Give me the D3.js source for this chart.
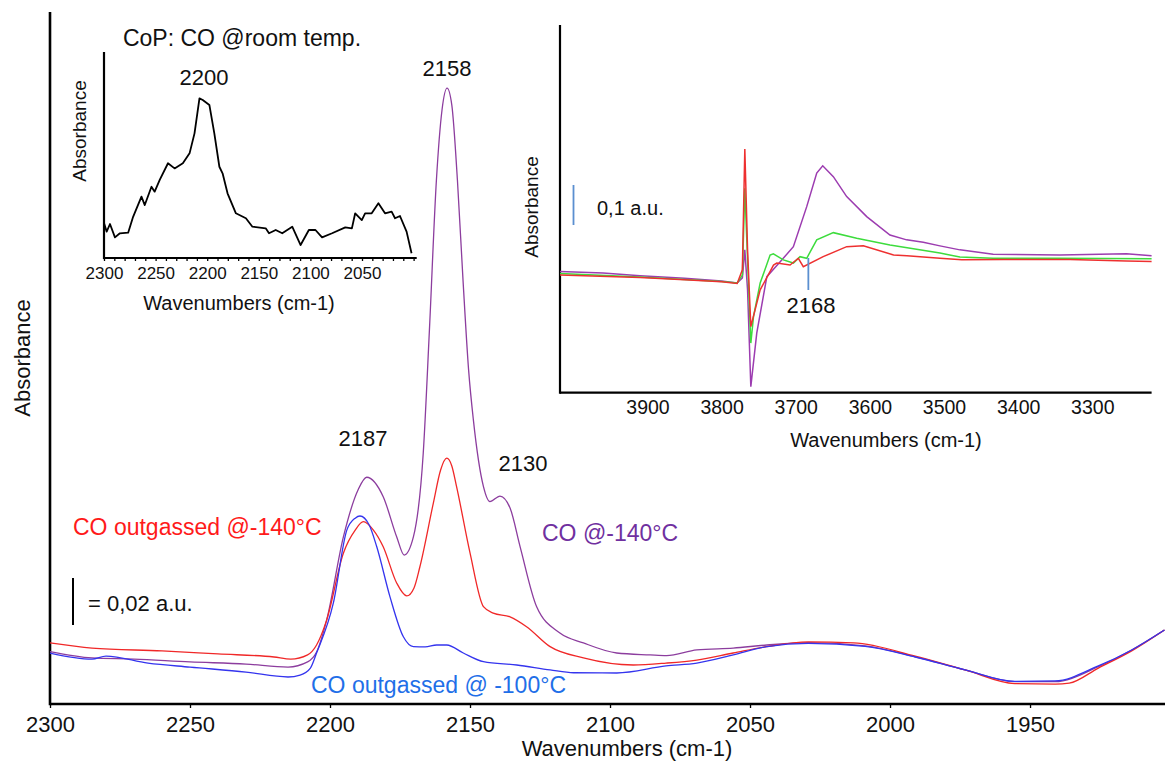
<!DOCTYPE html>
<html>
<head>
<meta charset="utf-8">
<script src="https://cdn.jsdelivr.net/npm/d3@7"></script>
<style>
  body { margin: 0; background: #fff; }
  text { font-family: "Liberation Sans", Arial, sans-serif; }
</style>
</head>
<body>
<div id="chart"></div>
<script>
// ---- main spectra (CO region), wavenumber cm-1 / absorbance a.u.
var mainPurpleWn = [2300,2285,2270,2250,2230,2215,2208,2204.8,2201.2,2195.2,2190,2186.9,2181,2176.2,2173.5,2170.2,2166.7,2164.5,2162,2160,2158.2,2156.5,2154.5,2152.5,2150.5,2148.8,2145.2,2142.9,2139.3,2135.7,2132.1,2126.2,2117.9,2109.5,2097.6,2085.7,2079.8,2069,2056,2044,2029.2,2008.9,1991,1973.2,1955.4,1941.1,1925.6,1913.7,1902];
var mainPurpleAbs = [0.0223,0.0196,0.0191,0.0179,0.0170,0.0157,0.0179,0.0221,0.0357,0.0712,0.0911,0.0965,0.0882,0.0712,0.0634,0.0712,0.1068,0.1591,0.2230,0.2528,0.2621,0.2549,0.2230,0.1804,0.1421,0.1209,0.0925,0.0861,0.0885,0.0834,0.0669,0.0414,0.0302,0.0260,0.0217,0.0209,0.0206,0.0230,0.0238,0.0251,0.0261,0.0247,0.0201,0.0145,0.0095,0.0095,0.0159,0.0230,0.0315];

var mainRedWn = [2300,2285,2260,2240,2220,2214,2208,2204.8,2201.2,2195.2,2191,2188.1,2184.5,2181,2176.2,2172.6,2170,2167.9,2163.1,2160.5,2158.3,2156.5,2154.8,2150,2145.2,2141.7,2135.7,2129.8,2121.4,2109.5,2091.7,2080,2069,2056,2044,2029.2,2013,1991,1973.2,1955.4,1941,1936,1925.6,1913.7,1902];
var mainRedAbs = [0.0260,0.0238,0.0226,0.0213,0.0200,0.0191,0.0209,0.0251,0.0357,0.0643,0.0740,0.0776,0.0740,0.0669,0.0515,0.0460,0.0494,0.0584,0.0855,0.0996,0.1046,0.1013,0.0925,0.0643,0.0414,0.0387,0.0371,0.0329,0.0244,0.0196,0.0166,0.0174,0.0187,0.0217,0.0244,0.0264,0.0260,0.0204,0.0145,0.0087,0.0085,0.0089,0.0153,0.0226,0.0315];

var mainBlueWn = [2300,2285,2280,2265,2250,2230,2215,2210.7,2207,2204.8,2198.8,2194,2191,2189.3,2186,2183.3,2178.6,2173.8,2170.2,2166,2161.9,2158.3,2152.4,2145.2,2133.3,2121.4,2113,2097.6,2080,2069,2056,2044,2029.2,2008.9,1991,1973.2,1955.4,1941.1,1925.6,1913.7,1902];
var mainBlueAbs = [0.0217,0.0191,0.0204,0.0174,0.0157,0.0136,0.0115,0.0123,0.0153,0.0217,0.0430,0.0740,0.0791,0.0800,0.0762,0.0669,0.0457,0.0286,0.0244,0.0243,0.0251,0.0251,0.0217,0.0180,0.0166,0.0145,0.0133,0.0132,0.0162,0.0174,0.0209,0.0244,0.0258,0.0245,0.0200,0.0145,0.0096,0.0098,0.0162,0.0230,0.0315];

var mainTicks = [2300,2250,2200,2150,2100,2050,2000,1950];

// ---- inset 1: CoP, CO at room temperature
var roomWn = [2300,2297.4,2294.2,2289.4,2284.6,2276.6,2271.8,2263.7,2260.5,2254,2250.9,2246,2238,2231.6,2223.6,2217.1,2212.3,2207.5,2204.3,2197.9,2193.1,2188.2,2185.1,2180.3,2172.2,2162.5,2156.2,2143.3,2140.1,2133.6,2127.3,2117.6,2109.5,2101.5,2095.1,2088.7,2079,2066.2,2059.8,2056.6,2050.2,2047,2040.6,2034.1,2027.7,2021.3,2018,2013.2,2006.8,2002];
var roomAbs = [0.170,0.128,0.165,0.100,0.120,0.123,0.200,0.298,0.257,0.346,0.322,0.379,0.460,0.435,0.460,0.508,0.605,0.775,0.767,0.743,0.605,0.443,0.411,0.314,0.217,0.193,0.152,0.144,0.120,0.136,0.120,0.152,0.063,0.136,0.136,0.100,0.120,0.149,0.144,0.217,0.184,0.217,0.217,0.266,0.217,0.225,0.193,0.204,0.128,0.023];
var roomTicks = [2300,2250,2200,2150,2100,2050];

// ---- inset 2: OH region
var ohPurpleWn = [4018,3960,3910,3850,3800,3779,3772,3768.7,3765,3760.6,3752.6,3739,3721,3703.2,3685.2,3671.7,3663.6,3649.3,3631.3,3604.3,3572.9,3550.4,3528,3505.5,3478.6,3433.7,3343.8,3253.9,3220];
var ohPurpleAbs = [0.303,0.299,0.292,0.286,0.279,0.274,0.287,0.357,0.257,0.015,0.149,0.290,0.327,0.365,0.465,0.549,0.567,0.540,0.490,0.440,0.394,0.382,0.376,0.367,0.357,0.346,0.344,0.347,0.342];
var ohGreenWn = [4018,3910,3850,3800,3779,3772,3768.7,3765,3760.6,3757,3748,3734.6,3730.2,3716.7,3703.2,3694.2,3685.2,3671.7,3649.3,3617.8,3572.9,3505.5,3478.6,3433.7,3343.8,3220];
var ohGreenAbs = [0.298,0.289,0.283,0.278,0.274,0.294,0.511,0.332,0.124,0.190,0.274,0.344,0.347,0.332,0.324,0.340,0.336,0.382,0.400,0.386,0.369,0.349,0.339,0.336,0.336,0.335];
var ohRedWn = [4018,3910,3850,3800,3779,3772,3768.7,3765,3760.6,3748,3730,3725.6,3707.7,3696.5,3689.8,3663,3631.3,3608.9,3568,3550,3505.5,3476,3420,3330,3254,3220];
var ohRedAbs = [0.294,0.288,0.282,0.277,0.273,0.307,0.609,0.357,0.165,0.257,0.319,0.324,0.319,0.336,0.315,0.340,0.365,0.367,0.344,0.342,0.336,0.332,0.333,0.333,0.329,0.328];
var ohTicks = [3900,3800,3700,3600,3500,3400,3300];

var W = 1165, H = 763;

var svg = d3.select("#chart").append("svg")
    .attr("width", W)
    .attr("height", H);

function drawAxis(g, x, y0, yTop, ticks, tickLen, fontSize, labelDy, axisW) {
    var xr = x.range();
    g.append("line")
        .attr("x1", xr[0]).attr("x2", xr[1])
        .attr("y1", y0).attr("y2", y0)
        .attr("stroke", "#000").attr("stroke-width", axisW);
    g.append("line")
        .attr("x1", xr[0]).attr("x2", xr[0])
        .attr("y1", y0 + axisW / 2).attr("y2", yTop)
        .attr("stroke", "#000").attr("stroke-width", axisW);
    var ax = g.append("g")
        .attr("transform", "translate(0," + y0 + ")")
        .call(d3.axisBottom(x).tickValues(ticks).tickSize(tickLen).tickSizeOuter(0).tickFormat(d3.format("d")));
    ax.select(".domain").remove();
    ax.selectAll(".tick line").attr("stroke", "#000").attr("stroke-width", 1.3);
    ax.selectAll(".tick text")
        .attr("y", labelDy).attr("dy", "0.35em")
        .attr("fill", "#111")
        .style("font-size", fontSize + "px")
        .style("font-family", "'Liberation Sans', Arial, sans-serif");
}

function series(wn, ab) {
    return d3.zip(wn, ab);
}

// ---------------- main chart
var x = d3.scaleLinear().domain([2300, 1901.8]).range([50, 1165]);
var y = d3.scaleLinear().domain([0, 0.2945]).range([704, 12]);

var gMain = svg.append("g");
drawAxis(gMain, x, 704, 12, mainTicks, 4, 22, 20, 2.6);

var mainLine = d3.line()
    .x(function (d) { return x(d[0]); })
    .y(function (d) { return y(d[1]); })
    .curve(d3.curveMonotoneX);

var mainSeries = [
    { wn: mainPurpleWn, ab: mainPurpleAbs, color: "#8c3d9e" },
    { wn: mainRedWn, ab: mainRedAbs, color: "#f02828" },
    { wn: mainBlueWn, ab: mainBlueAbs, color: "#3434ee" }
];
mainSeries.forEach(function (s) {
    gMain.append("path")
        .datum(series(s.wn, s.ab))
        .attr("fill", "none")
        .attr("stroke", s.color)
        .attr("stroke-width", 1.3)
        .attr("d", mainLine);
});

gMain.append("text")
    .attr("x", 627).attr("y", 748).attr("dy", "0.35em")
    .attr("text-anchor", "middle")
    .style("font-size", "22px").attr("fill", "#111")
    .text("Wavenumbers (cm-1)");

gMain.append("text")
    .attr("transform", "translate(22,358) rotate(-90)")
    .attr("dy", "0.35em")
    .attr("text-anchor", "middle")
    .style("font-size", "22px").attr("fill", "#111")
    .text("Absorbance");

// peak labels
var peakLabels = [
    { t: "2158", x: 447, y: 68 },
    { t: "2187", x: 363, y: 438 },
    { t: "2130", x: 523, y: 463 }
];
peakLabels.forEach(function (p) {
    gMain.append("text")
        .attr("x", p.x).attr("y", p.y).attr("dy", "0.35em")
        .attr("text-anchor", "middle")
        .style("font-size", "22px").attr("fill", "#111")
        .text(p.t);
});

var seriesLabels = [
    { t: "CO @-140°C", x: 542, y: 533, c: "#7030a0" },
    { t: "CO outgassed @-140°C", x: 73, y: 527, c: "#ff1a1a" },
    { t: "CO outgassed @ -100°C", x: 311, y: 685, c: "#1f6fe8" }
];
seriesLabels.forEach(function (p) {
    gMain.append("text")
        .attr("x", p.x).attr("y", p.y).attr("dy", "0.35em")
        .style("font-size", "23px").attr("fill", p.c)
        .text(p.t);
});

// 0,02 a.u. scale bar
gMain.append("line")
    .attr("x1", 73).attr("x2", 73)
    .attr("y1", 625).attr("y2", 625 - (y(0) - y(0.02)))
    .attr("stroke", "#000").attr("stroke-width", 2);
gMain.append("text")
    .attr("x", 88).attr("y", 603).attr("dy", "0.35em")
    .style("font-size", "22px").attr("fill", "#111")
    .text("= 0,02 a.u.");

// ---------------- inset 1
var x1 = d3.scaleLinear().domain([2300, 1997]).range([104, 416.7]);
var y1 = d3.scaleLinear().domain([0, 1]).range([258, 52]);
var gIn1 = svg.append("g");
drawAxis(gIn1, x1, 258, 52, d3.range(2300, 1999, -10), 3, 17, 15, 2.2);
gIn1.selectAll(".tick text").filter(function (d) { return roomTicks.indexOf(d) < 0; }).remove();

gIn1.append("path")
    .datum(series(roomWn, roomAbs))
    .attr("fill", "none")
    .attr("stroke", "#000")
    .attr("stroke-width", 1.8)
    .attr("stroke-linejoin", "round")
    .attr("d", d3.line()
        .x(function (d) { return x1(d[0]); })
        .y(function (d) { return y1(d[1]); }));

gIn1.append("text")
    .attr("x", 242).attr("y", 38).attr("dy", "0.35em")
    .attr("text-anchor", "middle")
    .style("font-size", "23px").attr("fill", "#111")
    .text("CoP: CO @room temp.");
gIn1.append("text")
    .attr("x", 204).attr("y", 77).attr("dy", "0.35em")
    .attr("text-anchor", "middle")
    .style("font-size", "22px").attr("fill", "#111")
    .text("2200");
gIn1.append("text")
    .attr("x", 239).attr("y", 303).attr("dy", "0.35em")
    .attr("text-anchor", "middle")
    .style("font-size", "20px").attr("fill", "#111")
    .text("Wavenumbers (cm-1)");
gIn1.append("text")
    .attr("transform", "translate(79,131) rotate(-90)")
    .attr("dy", "0.35em")
    .attr("text-anchor", "middle")
    .style("font-size", "19px").attr("fill", "#111")
    .text("Absorbance");

// ---------------- inset 2
var x2 = d3.scaleLinear().domain([4018, 3220]).range([560, 1151.6]);
var y2 = d3.scaleLinear().domain([0, 0.919]).range([392.7, 25]);
var gIn2 = svg.append("g");
drawAxis(gIn2, x2, 392.7, 25, ohTicks, 0, 19.5, 14, 2.2);

var ohLine = d3.line()
    .x(function (d) { return x2(d[0]); })
    .y(function (d) { return y2(d[1]); });

var ohSeries = [
    { wn: ohPurpleWn, ab: ohPurpleAbs, color: "#9c3cb0" },
    { wn: ohGreenWn, ab: ohGreenAbs, color: "#3ddc3d" },
    { wn: ohRedWn, ab: ohRedAbs, color: "#ee3030" }
];
ohSeries.forEach(function (s) {
    gIn2.append("path")
        .datum(series(s.wn, s.ab))
        .attr("fill", "none")
        .attr("stroke", s.color)
        .attr("stroke-width", 1.5)
        .attr("d", ohLine);
});

gIn2.append("text")
    .attr("x", 886).attr("y", 440).attr("dy", "0.35em")
    .attr("text-anchor", "middle")
    .style("font-size", "20px").attr("fill", "#111")
    .text("Wavenumbers (cm-1)");
gIn2.append("text")
    .attr("transform", "translate(531,207) rotate(-90)")
    .attr("dy", "0.35em")
    .attr("text-anchor", "middle")
    .style("font-size", "19px").attr("fill", "#111")
    .text("Absorbance");

// 0,1 a.u. bar
gIn2.append("line")
    .attr("x1", 573.5).attr("x2", 573.5)
    .attr("y1", 225).attr("y2", 225 - (y2(0) - y2(0.1)))
    .attr("stroke", "#5b8fd0").attr("stroke-width", 1.8);
gIn2.append("text")
    .attr("x", 597).attr("y", 208).attr("dy", "0.35em")
    .style("font-size", "20px").attr("fill", "#111")
    .text("0,1 a.u.");

// 2168 marker
gIn2.append("line")
    .attr("x1", x2(3683)).attr("x2", x2(3683))
    .attr("y1", 258).attr("y2", 290)
    .attr("stroke", "#5b8fd0").attr("stroke-width", 1.8);
gIn2.append("text")
    .attr("x", 811).attr("y", 305).attr("dy", "0.35em")
    .attr("text-anchor", "middle")
    .style("font-size", "22px").attr("fill", "#111")
    .text("2168");
</script>
</body>
</html>
